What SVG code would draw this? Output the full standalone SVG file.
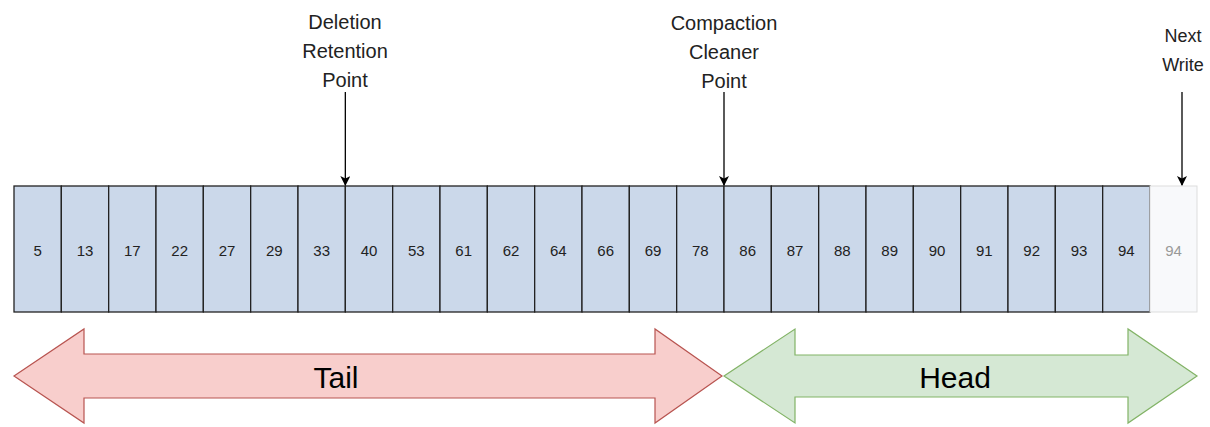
<svg xmlns="http://www.w3.org/2000/svg" width="1210" height="427" viewBox="0 0 1210 427">
<style>
.cell{fill:#cbd8ea;stroke:#222;stroke-width:1.3}
.ct{font-family:"Liberation Sans",Arial,sans-serif;font-size:15px;fill:#222;text-anchor:middle;dominant-baseline:central}
.lbl{font-family:"Liberation Sans",Arial,sans-serif;font-size:20px;fill:#222;text-anchor:middle}
.conn{stroke:#000;stroke-width:1.3;fill:none}
.big{font-family:"Liberation Sans",Arial,sans-serif;font-size:30px;fill:#000;text-anchor:middle;dominant-baseline:central}
</style>
<defs>
<marker id="ah" markerWidth="10" markerHeight="10" refX="9" refY="5" orient="auto" markerUnits="userSpaceOnUse">
<path d="M0,0 L10,5 L0,10 L2.5,5 Z" fill="#000"/>
</marker>
</defs>
<g id="log">
<g id="c0"><rect class="cell" x="14" y="186" width="47.33" height="126"/><text class="ct" x="37.7" y="250">5</text></g>
<g id="c1"><rect class="cell" x="61.33" y="186" width="47.33" height="126"/><text class="ct" x="85" y="250">13</text></g>
<g id="c2"><rect class="cell" x="108.67" y="186" width="47.33" height="126"/><text class="ct" x="132.3" y="250">17</text></g>
<g id="c3"><rect class="cell" x="156" y="186" width="47.33" height="126"/><text class="ct" x="179.7" y="250">22</text></g>
<g id="c4"><rect class="cell" x="203.33" y="186" width="47.33" height="126"/><text class="ct" x="227" y="250">27</text></g>
<g id="c5"><rect class="cell" x="250.67" y="186" width="47.33" height="126"/><text class="ct" x="274.3" y="250">29</text></g>
<g id="c6"><rect class="cell" x="298" y="186" width="47.33" height="126"/><text class="ct" x="321.7" y="250">33</text></g>
<g id="c7"><rect class="cell" x="345.33" y="186" width="47.33" height="126"/><text class="ct" x="369" y="250">40</text></g>
<g id="c8"><rect class="cell" x="392.67" y="186" width="47.33" height="126"/><text class="ct" x="416.3" y="250">53</text></g>
<g id="c9"><rect class="cell" x="440" y="186" width="47.33" height="126"/><text class="ct" x="463.7" y="250">61</text></g>
<g id="c10"><rect class="cell" x="487.33" y="186" width="47.33" height="126"/><text class="ct" x="511" y="250">62</text></g>
<g id="c11"><rect class="cell" x="534.67" y="186" width="47.33" height="126"/><text class="ct" x="558.3" y="250">64</text></g>
<g id="c12"><rect class="cell" x="582" y="186" width="47.33" height="126"/><text class="ct" x="605.7" y="250">66</text></g>
<g id="c13"><rect class="cell" x="629.33" y="186" width="47.33" height="126"/><text class="ct" x="653" y="250">69</text></g>
<g id="c14"><rect class="cell" x="676.67" y="186" width="47.33" height="126"/><text class="ct" x="700.3" y="250">78</text></g>
<g id="c15"><rect class="cell" x="724" y="186" width="47.33" height="126"/><text class="ct" x="747.7" y="250">86</text></g>
<g id="c16"><rect class="cell" x="771.33" y="186" width="47.33" height="126"/><text class="ct" x="795" y="250">87</text></g>
<g id="c17"><rect class="cell" x="818.67" y="186" width="47.33" height="126"/><text class="ct" x="842.3" y="250">88</text></g>
<g id="c18"><rect class="cell" x="866" y="186" width="47.33" height="126"/><text class="ct" x="889.7" y="250">89</text></g>
<g id="c19"><rect class="cell" x="913.33" y="186" width="47.33" height="126"/><text class="ct" x="937" y="250">90</text></g>
<g id="c20"><rect class="cell" x="960.67" y="186" width="47.33" height="126"/><text class="ct" x="984.3" y="250">91</text></g>
<g id="c21"><rect class="cell" x="1008" y="186" width="47.33" height="126"/><text class="ct" x="1031.7" y="250">92</text></g>
<g id="c22"><rect class="cell" x="1055.33" y="186" width="47.33" height="126"/><text class="ct" x="1079" y="250">93</text></g>
<g id="c23"><rect class="cell" x="1102.67" y="186" width="47.33" height="126"/><text class="ct" x="1126.3" y="250">94</text></g>
</g>
<g id="next-cell"><rect x="1150" y="186" width="47" height="126" fill="#f8f9fb" stroke="#dddddd" stroke-width="1"/><text class="ct" x="1173.5" y="250" style="fill:#999">94</text></g>
<g id="deletion-label"><text class="lbl" x="345" y="29">Deletion</text><text class="lbl" x="345" y="58">Retention</text><text class="lbl" x="345" y="87">Point</text></g>
<g id="compaction-label"><text class="lbl" x="724" y="30">Compaction</text><text class="lbl" x="724" y="59">Cleaner</text><text class="lbl" x="724" y="88">Point</text></g>
<g id="next-label"><text class="lbl" x="1183" y="42" style="font-size:18px">Next</text><text class="lbl" x="1183" y="71" style="font-size:18px">Write</text></g>
<g id="connectors">
<line class="conn" x1="345.33" y1="92" x2="345.33" y2="185" marker-end="url(#ah)"/>
<line class="conn" x1="724" y1="92" x2="724" y2="185" marker-end="url(#ah)"/>
<line class="conn" x1="1182" y1="92" x2="1182" y2="185" marker-end="url(#ah)"/>
</g>
<g id="tail"><path d="M14,376 L84,329 L84,354 L655,354 L655,329 L722,376 L655,423 L655,398 L84,398 L84,423 Z" fill="#f8cecc" stroke="#b85450" stroke-width="1.2"/><text class="big" x="336" y="377">Tail</text></g>
<g id="head"><path d="M724,376 L795,329 L795,355 L1128,355 L1128,329 L1197,376 L1128,423 L1128,397 L795,397 L795,423 Z" fill="#d5e8d4" stroke="#82b366" stroke-width="1.2"/><text class="big" x="955" y="377">Head</text></g>
</svg>
